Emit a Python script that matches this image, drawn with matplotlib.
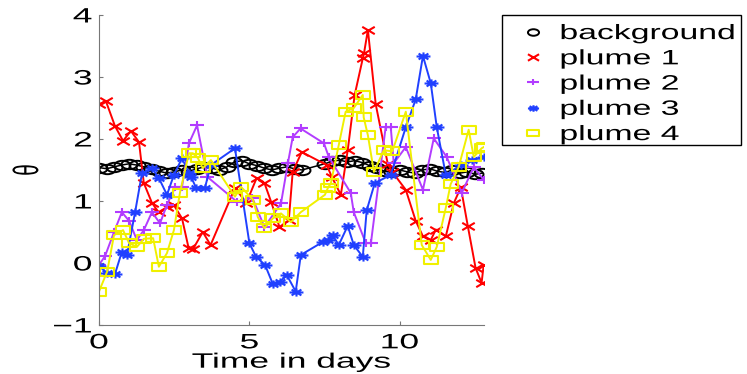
import numpy as np
import matplotlib
matplotlib.use('Agg')
import matplotlib.pyplot as plt
from matplotlib.path import Path
from matplotlib.patches import Rectangle
from matplotlib.transforms import Affine2D
from matplotlib.patheffects import AbstractPathEffect

plt.rcParams['font.family'] = ['Liberation Sans', 'DejaVu Sans']

# background
t_bg = list(np.arange(0, 7.0, 0.25)) + list(np.arange(7.5, 12.9, 0.25))
y_bg = [1.54, 1.52, 1.55, 1.58, 1.60, 1.58, 1.55, 1.52, 1.48, 1.45, 1.47, 1.50, 1.48, 1.52,
        1.55, 1.53, 1.50, 1.55, 1.63, 1.65, 1.60, 1.57, 1.53, 1.50, 1.53, 1.55, 1.52, 1.50,
        1.60, 1.64, 1.66, 1.63, 1.65, 1.62, 1.57, 1.53, 1.48, 1.46, 1.50, 1.47, 1.45, 1.50,
        1.52, 1.48, 1.46, 1.50, 1.45, 1.47, 1.43, 1.45]

# plume 1
t1 = [0, 0.23, 0.53, 0.8, 1.06, 1.33, 1.49, 1.76, 1.98, 2.26, 2.48, 2.76, 2.98, 3.12, 3.45,
      3.71, 4.52, 4.9, 5.24, 5.5, 5.72, 6.0, 6.31, 6.44, 6.74, 7.57, 7.74, 8.04, 8.27, 8.5,
      8.77, 8.81, 8.94, 9.2, 9.6, 9.75, 10.2, 10.53, 10.77, 11.03, 11.2, 11.53, 11.8, 12.03,
      12.26, 12.52, 12.72, 12.79]
y1 = [2.56, 2.61, 2.21, 1.97, 2.13, 1.95, 1.29, 0.97, 0.82, 0.90, 0.94, 0.72, 0.24, 0.22, 0.50,
      0.29, 1.21, 0.97, 1.37, 1.29, 0.99, 0.58, 0.69, 1.47, 1.79, 1.58, 1.39, 1.1, 1.82, 2.71,
      3.3, 3.38, 3.76, 2.56, 1.6, 1.47, 1.18, 0.68, 0.43, 0.37, 0.54, 0.43, 0.97, 1.22,
      0.6, -0.08, -0.32, -0.03]

# plume 2
t2 = [0, 0.2, 0.5, 0.76, 1.0, 1.26, 1.49, 1.76, 2.03, 2.26, 2.53, 2.76, 2.99, 3.26, 3.6,
      4.58, 5.1, 5.5, 6.05, 6.28, 6.44, 6.7, 7.48, 7.64, 8.37, 8.47, 8.87, 9.04, 9.53, 9.7,
      9.8, 10.2, 10.77, 11.13, 11.56, 12.06, 12.46, 12.79]
y2 = [-0.03, 0.11, 0.5, 0.82, 0.68, 0.37, 0.53, 0.82, 0.64, 0.94, 1.22, 1.23, 1.93, 2.22, 1.39,
      0.99, 1.05, 0.58, 0.96, 1.61, 2.03, 2.17, 1.93, 1.71, 1.13, 0.82, 0.32, 0.32, 2.19, 2.19,
      1.61, 1.87, 1.18, 2.01, 1.71, 1.13, 1.55, 1.34]

# plume 3
t3 = [0, 0.27, 0.53, 0.76, 0.93, 1.2, 1.43, 1.76, 1.99, 2.26, 2.49, 2.76, 2.99, 3.06, 3.23,
      3.52, 3.72, 4.52, 5.0, 5.22, 5.52, 5.78, 6.01, 6.25, 6.54, 6.71, 7.44, 7.61, 7.77, 7.97,
      8.27, 8.47, 8.77, 8.9, 9.17, 9.7, 10.2, 10.53, 10.77, 11.03, 11.23, 11.53, 12.03, 12.4,
      12.79]
y3 = [-0.05, -0.16, -0.18, 0.18, 0.13, 0.82, 1.45, 1.53, 1.37, 1.1, 1.42, 1.69, 1.45, 1.39, 1.21,
      1.21, 1.58, 1.85, 0.32, 0.1, -0.03, -0.34, -0.3, -0.2, -0.46, 0.13, 0.34, 0.37, 0.45, 0.29,
      0.6, 0.29, 0.1, 0.85, 1.29, 1.42, 2.19, 2.64, 3.34, 2.9, 2.19, 1.42, 1.58, 1.66,
      1.71]

# plume 4
t4 = [0, 0.27, 0.5, 0.8, 1.0, 1.26, 1.49, 1.8, 1.99, 2.26, 2.49, 2.69, 2.99, 3.12, 3.29,
      3.45, 3.72, 4.52, 4.72, 5.12, 5.28, 5.5, 5.78, 6.05, 6.38, 6.71, 7.51, 7.61, 7.71, 7.97,
      8.2, 8.47, 8.77, 8.8, 8.94, 9.14, 9.47, 9.75, 10.2, 10.73, 11.03, 11.23, 11.53, 11.69,
      11.96, 12.29, 12.46, 12.72, 12.79]
y4 = [-0.46, -0.14, 0.45, 0.53, 0.32, 0.26, 0.39, 0.4, -0.06, 0.16, 0.53, 1.13, 1.77, 1.77, 1.69,
      1.53, 1.66, 1.07, 1.23, 1.02, 0.74, 0.56, 0.72, 0.8, 0.66, 0.82, 1.1, 1.21, 1.29, 1.9,
      2.44, 2.5, 2.71, 2.35, 2.06, 1.47, 1.82, 1.8, 2.44, 0.29, 0.05, 0.26, 0.89, 1.27,
      1.55, 2.15, 1.71, 1.85, 1.87]

labels = ['background', 'plume 1', 'plume 2', 'plume 3', 'plume 4']

# the original picture is squashed vertically: stretch text and markers sideways
SX = 1.7


class Wide(AbstractPathEffect):
    def __init__(self, sx=SX, anchor=0.5):
        super().__init__()
        self.sx = sx
        self.anchor = anchor

    def draw_path(self, renderer, gc, tpath, affine, rgbFace=None):
        ext = affine.transform_path(tpath).get_extents()
        x0 = ext.x0 + self.anchor * ext.width
        tr = affine + Affine2D().translate(-x0, 0).scale(self.sx, 1).translate(x0, 0)
        renderer.draw_path(gc, tpath, tr, rgbFace)


def wide(verts, codes=None):
    p = Path(np.asarray(verts, float), codes)
    return p.transformed(Affine2D().scale(SX, 1))


M, L = Path.MOVETO, Path.LINETO
m_circ = Path.unit_circle().transformed(Affine2D().scale(SX, 1))
m_x = wide([(-1, -1), (1, 1), (-1, 1), (1, -1)], [M, L, M, L])
m_plus = wide([(-1, 0), (1, 0), (0, -1), (0, 1)], [M, L, M, L])
d = 0.7071
m_star = wide([(-1, 0), (1, 0), (0, -1), (0, 1), (-d, -d), (d, d), (-d, d), (d, -d)],
              [M, L, M, L, M, L, M, L])
m_sq = wide([(-1, -1), (1, -1), (1, 1), (-1, 1), (-1, -1)], [M, L, L, L, Path.CLOSEPOLY])

W, H = 747, 374
fig = plt.figure(figsize=(7.47, 3.74), dpi=100)
ax = fig.add_axes([99 / W, 49 / H, 385 / W, 310 / H])

ax.plot(t_bg, y_bg, color='k', marker=m_circ, mfc='none', ms=11.5, lw=1.1, mew=1.4, label=labels[0])
ax.plot(t1, y1, color='#ff0000', marker=m_x, ms=9, lw=1.4, mew=1.5, label=labels[1])
ax.plot(t2, y2, color='#b23cff', marker=m_plus, ms=10.5, lw=1.4, mew=1.5, label=labels[2])
ax.plot(t3, y3, color='#2040ff', marker=m_star, ms=10, lw=1.4, mew=1.5, label=labels[3])
ax.plot(t4, y4, color='#f0f000', marker=m_sq, mfc='none', ms=10, lw=1.4, mew=1.5, label=labels[4])

ax.set_xlim(0, 12.8)
ax.set_ylim(-1, 4)
ax.set_xticks([0, 5, 10])
ax.set_yticks([-1, 0, 1, 2, 3, 4])
ax.spines['top'].set_visible(False)
ax.spines['right'].set_visible(False)
for s in ['left', 'bottom']:
    ax.spines[s].set_color('#777777')
ax.tick_params(direction='in', labelsize=15, length=3, color='#777777')
ax.tick_params(axis='y', pad=5)
ax.tick_params(axis='x', pad=6)
for tk in ax.xaxis.get_major_ticks():
    tk.label1.set_path_effects([Wide(anchor=0.5)])
for tk in ax.yaxis.get_major_ticks():
    tk.label1.set_path_effects([Wide(anchor=1.0)])

xl = ax.set_xlabel('Time in days', fontsize=15, va='center')
ax.xaxis.set_label_coords(0.5, -0.12)
xl.set_path_effects([Wide(anchor=0.5)])
yl = ax.set_ylabel('θ', fontsize=15, va='center')
ax.yaxis.set_label_coords(-0.186, 0.5)
yl.set_path_effects([Wide(anchor=0.5)])

# legend frame drawn separately, since the stretched labels are wider than the layout thinks
fig.add_artist(Rectangle((502 / W, 1 - 145 / H), 239 / W, 130 / H, transform=fig.transFigure,
                         fill=False, ec='k', lw=1.0))
leg = ax.legend(loc='upper left', bbox_to_anchor=(504 / W, 1 - 22 / H), bbox_transform=fig.transFigure,
                fontsize=15, handlelength=2.6, handletextpad=0.0, borderpad=0.1,
                labelspacing=0.3, borderaxespad=0, frameon=False)
for h in leg.legend_handles:
    h.set_linestyle('none')
    h.set_markersize(8)
for t in leg.get_texts():
    t.set_path_effects([Wide(sx=1.62, anchor=0.0)])

fig.savefig('out.png', dpi=100)
